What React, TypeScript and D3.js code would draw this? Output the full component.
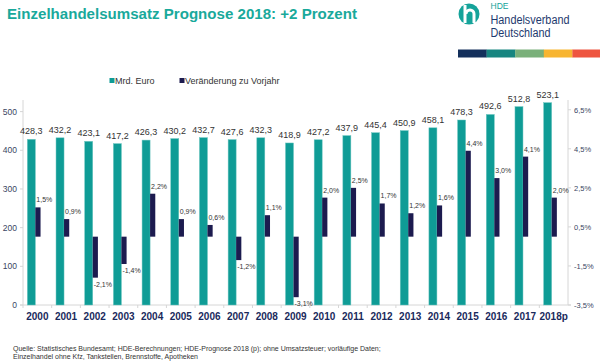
import React from 'react';
import * as d3 from 'd3';

// Jahre, Umsatz (Mrd. Euro) und Veränderung zum Vorjahr (%)
const years = ['2000', '2001', '2002', '2003', '2004', '2005', '2006', '2007', '2008', '2009',
    '2010', '2011', '2012', '2013', '2014', '2015', '2016', '2017', '2018p'];
const umsatz = [428.3, 432.2, 423.1, 417.2, 426.3, 430.2, 432.7, 427.6, 432.3, 418.9,
    427.2, 437.9, 445.4, 450.9, 458.1, 478.3, 492.6, 512.8, 523.1];
const veraenderung = [1.5, 0.9, -2.1, -1.4, 2.2, 0.9, 0.6, -1.2, 1.1, -3.1,
    2.0, 2.5, 1.7, 1.2, 1.6, 4.4, 3.0, 4.1, 2.0];
const leftTicks = [0, 100, 200, 300, 400, 500];
const rightTicks = [-3.5, -1.5, 0.5, 2.5, 4.5, 6.5];
const stripeColors = ['#14305c', '#178580', '#7ab07a', '#f7b531', '#ee5540'];

const FONT = '"Liberation Sans", Arial, sans-serif';
const TEAL = '#0f9c96';
const NAVY = '#1c1b4f';

const fmt = (v: number, digits: number) => v.toFixed(digits).replace('.', ',');

const App: React.FC = () => {
    const width = 600;
    const height = 364;
    const plot = { left: 23, right: 568, top: 100, bottom: 305 };

    const x = d3.scaleBand<string>().domain(years).range([plot.left, plot.right]);
    const yL = d3.scaleLinear().domain([0, 530]).range([plot.bottom, plot.top]);
    const yR = d3.scaleLinear().domain([-3.5, 7.0]).range([plot.bottom, plot.top]);
    const cx = (c: string) => (x(c) || 0) + x.bandwidth() / 2;

    return (
        <svg width={width} height={height} style={{ position: 'absolute', left: 0, top: 0 }}
            fontFamily={FONT}>
            <rect width={width} height={height} fill="#fff" />

            {/* Titel */}
            <text x={7} y={19} fontSize={14.5} fontWeight="bold" fill="#19a99b"
                textLength={350} lengthAdjust="spacingAndGlyphs">
                Einzelhandelsumsatz Prognose 2018: +2 Prozent
            </text>

            {/* Logo */}
            <circle cx={469} cy={14} r={10.5} fill="#15a39a" />
            <rect x={463.5} y={5} width={3} height={18} fill="#fff" />
            <path d="M466,14 a4,4 0 0 1 8,0 v9" fill="none" stroke="#fff" strokeWidth={3} />
            <text x={490.5} y={9} fontSize={8.5} fill="#15a39a">HDE</text>
            <text x={490.5} y={24} fontSize={12} fill="#1e3a6e" textLength={79}
                lengthAdjust="spacingAndGlyphs">Handelsverband</text>
            <text x={490.5} y={37} fontSize={12} fill="#1e3a6e" textLength={60}
                lengthAdjust="spacingAndGlyphs">Deutschland</text>
            {stripeColors.map((c, i) => (
                <rect key={c} x={458 + i * 28.6} y={49.5} width={28.8} height={8} fill={c} />
            ))}

            {/* Legende */}
            <rect x={109.5} y={78} width={5} height={5} fill={TEAL} />
            <text x={115} y={83.5} fontSize={9} fill="#333">Mrd. Euro</text>
            <rect x={179.5} y={78} width={5} height={5} fill={NAVY} />
            <text x={185} y={83.5} fontSize={9} fill="#333">Veränderung zu Vorjahr</text>

            {/* Achsen */}
            <line x1={plot.left} x2={plot.left} y1={plot.top} y2={plot.bottom} stroke="#d6d6d6" />
            <line x1={plot.right} x2={plot.right} y1={plot.top} y2={plot.bottom} stroke="#d6d6d6" />
            <line x1={plot.left - 3} x2={plot.right + 3} y1={plot.bottom} y2={plot.bottom} stroke="#d6d6d6" />
            {leftTicks.map(t => (
                <g key={t}>
                    <line x1={plot.left - 3} x2={plot.left} y1={yL(t)} y2={yL(t)} stroke="#d6d6d6" />
                    <text x={17} y={yL(t) + 3} fontSize={8.5} textAnchor="end" fill="#3a4663">{t}</text>
                </g>
            ))}
            {rightTicks.map(t => (
                <g key={t}>
                    <line x1={plot.right} x2={plot.right + 3} y1={yR(t)} y2={yR(t)} stroke="#d6d6d6" />
                    <text x={574} y={yR(t) + 3} fontSize={7.5} fill="#3a4663">{fmt(t, 1)}%</text>
                </g>
            ))}
            {years.map(c => (
                <line key={c} x1={x(c)} x2={x(c)} y1={plot.bottom} y2={plot.bottom + 3} stroke="#d6d6d6" />
            ))}

            {/* Balken Umsatz */}
            {years.map((c, i) => (
                <g key={'u' + c}>
                    <rect x={cx(c) - 10} y={yL(umsatz[i])} width={8}
                        height={yL(0) - yL(umsatz[i])} fill={TEAL} stroke="#6cc6c0" strokeWidth={0.5} />
                    <text x={cx(c) - 6} y={yL(umsatz[i]) - 5} fontSize={9} textAnchor="middle" fill="#333">
                        {fmt(umsatz[i], 1)}
                    </text>
                </g>
            ))}

            {/* Balken Veränderung */}
            {years.map((c, i) => {
                const v = veraenderung[i];
                const y0 = yR(0);
                const y1 = yR(v);
                return (
                    <g key={'v' + c}>
                        <rect x={cx(c) - 2} y={Math.min(y0, y1)} width={5.2}
                            height={Math.abs(y1 - y0)} fill={NAVY} />
                        <text x={cx(c) - 1} y={v >= 0 ? y1 - 5 : y1 + 9} fontSize={7} fill="#333">
                            {fmt(v, 1)}%
                        </text>
                    </g>
                );
            })}

            {/* Jahre */}
            {years.map(c => (
                <text key={'l' + c} x={cx(c)} y={320} fontSize={10} fontWeight="bold"
                    textAnchor="middle" fill="#1a2a5c">{c}</text>
            ))}

            {/* Quelle */}
            <text x={13} y={351} fontSize={7} fill="#333">
                Quelle: Statistisches Bundesamt; HDE-Berechnungen; HDE-Prognose 2018 (p); ohne Umsatzsteuer; vorläufige Daten;
            </text>
            <text x={13} y={359} fontSize={7} fill="#333">
                Einzelhandel ohne Kfz, Tankstellen, Brennstoffe, Apotheken
            </text>
        </svg>
    );
};

export default App;
